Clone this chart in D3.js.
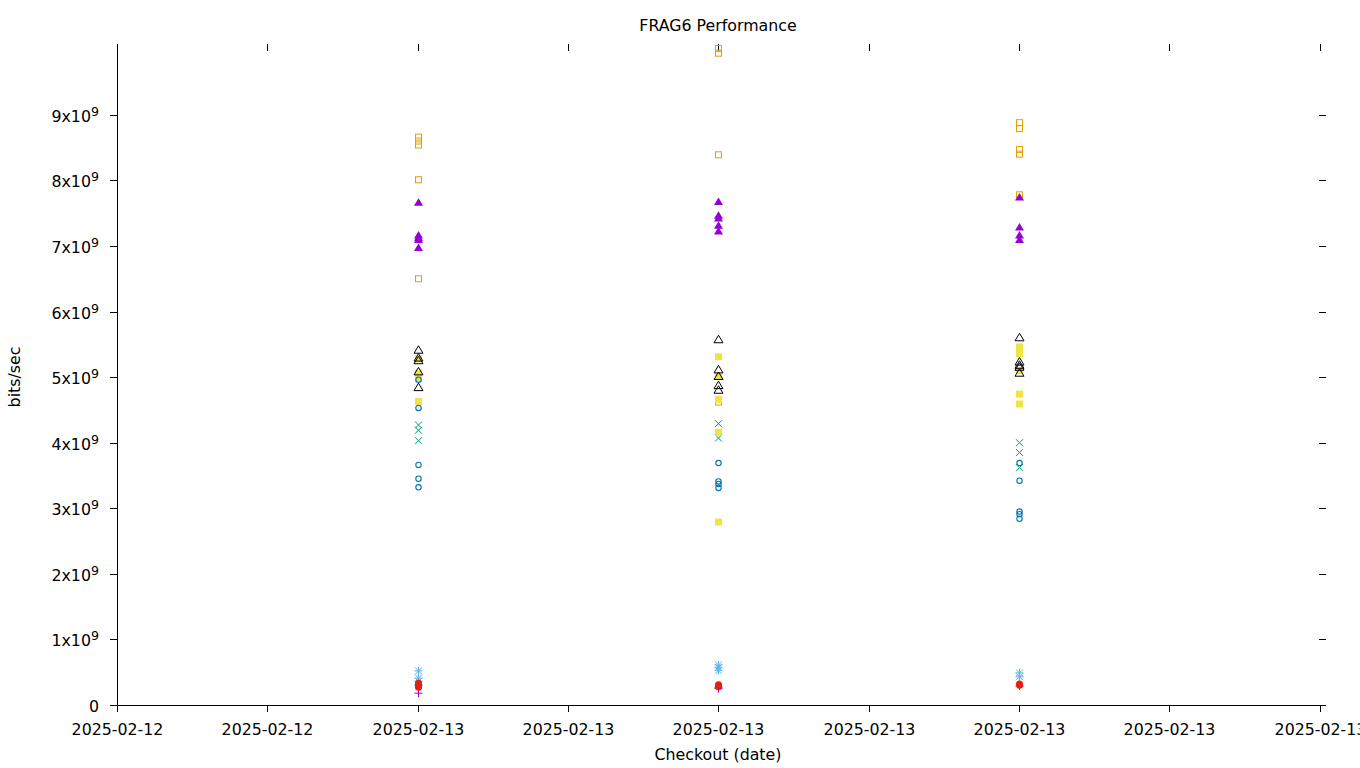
<!DOCTYPE html>
<html>
<head>
<meta charset="utf-8">
<script src="https://cdn.jsdelivr.net/npm/d3@7"></script>
<style>
  html, body { margin: 0; padding: 0; background: #fff; }
  svg { display: block; font-family: "DejaVu Sans", sans-serif; }
</style>
</head>
<body>
<svg id="chart" width="1360" height="768"></svg>
<script>
// ---- data ----
const runDates = ["2025-02-13T00:00:00Z", "2025-02-13T04:00:00Z", "2025-02-13T08:00:00Z"];
const xDomain = ["2025-02-12T20:00:00Z", "2025-02-13T12:05:00Z"];
const yTickValues = [0, 1e9, 2e9, 3e9, 4e9, 5e9, 6e9, 7e9, 8e9, 9e9];
const yMax = 10.08e9;

// values per run (bits/sec), one array per series
const s1Plus = [[0.18e9, 0.30e9], [0.27e9, 0.25e9], [0.29e9]];
const s2Cross = [[4.27e9, 4.19e9, 4.03e9], [4.29e9, 4.07e9], [4.00e9, 3.85e9, 3.62e9]];
const s3Star = [[0.52e9, 0.41e9, 0.36e9], [0.61e9, 0.57e9, 0.53e9], [0.49e9, 0.43e9]];
const s4OpenSquare = [[8.66e9, 8.60e9, 8.54e9, 8.01e9, 6.50e9], [10.01e9, 9.94e9, 8.39e9, 4.62e9], [8.88e9, 8.79e9, 8.47e9, 8.40e9, 7.78e9]];
const s5FilledSquare = [[5.28e9, 5.06e9, 4.98e9, 4.63e9], [5.31e9, 5.01e9, 4.66e9, 4.16e9, 2.79e9], [5.46e9, 5.36e9, 5.10e9, 4.74e9, 4.59e9]];
const s6OpenCircle = [[4.96e9, 4.53e9, 3.66e9, 3.45e9, 3.32e9], [3.69e9, 3.41e9, 3.37e9, 3.31e9], [3.69e9, 3.42e9, 2.95e9, 2.91e9, 2.84e9]];
const s7FilledCircle = [[0.33e9, 0.30e9, 0.27e9], [0.31e9, 0.28e9], [0.32e9, 0.30e9]];
const s8OpenTriangle = [[5.41e9, 5.29e9, 5.25e9, 5.08e9, 4.84e9], [5.57e9, 5.11e9, 5.01e9, 4.87e9, 4.80e9], [5.60e9, 5.23e9, 5.18e9, 5.15e9, 5.06e9]];
const s9FilledTriangle = [[7.66e9, 7.16e9, 7.12e9, 7.09e9, 6.97e9], [7.67e9, 7.46e9, 7.42e9, 7.31e9, 7.22e9], [7.74e9, 7.28e9, 7.16e9, 7.09e9]];

const seriesList = [
  { values: s1Plus, color: "#9400d3", shape: "plus" },
  { values: s2Cross, color: "#009e73", shape: "cross" },
  { values: s3Star, color: "#56b4e9", shape: "star" },
  { values: s4OpenSquare, color: "#e69f00", shape: "square", fill: false },
  { values: s5FilledSquare, color: "#f0e442", shape: "square", fill: true },
  { values: s6OpenCircle, color: "#0072b2", shape: "circle", fill: false },
  { values: s7FilledCircle, color: "#e51e10", shape: "circle", fill: true },
  { values: s8OpenTriangle, color: "#000000", shape: "triangle", fill: false },
  { values: s9FilledTriangle, color: "#9400d3", shape: "triangle", fill: true }
];

// ---- layout ----
const svg = d3.select("#chart");
const mLeft = 117, mRight = 1326, mTop = 44, mBottom = 705;
const fontSize = 15.8;

const x = d3.scaleUtc().domain(xDomain.map(d => new Date(d))).range([mLeft, mRight]);
const y = d3.scaleLinear().domain([0, yMax]).range([mBottom, mTop]);
const xTicks = d3.utcHour.every(2).range(new Date(xDomain[0]), new Date(xDomain[1]));
const fmt = d3.utcFormat("%Y-%m-%d");

// axes lines
svg.append("line").attr("x1", mLeft + 0.5).attr("x2", mLeft + 0.5).attr("y1", mTop).attr("y2", mBottom + 0.5)
  .attr("stroke", "#000").attr("stroke-width", 1);
svg.append("line").attr("x1", mLeft).attr("x2", mRight).attr("y1", mBottom + 0.5).attr("y2", mBottom + 0.5)
  .attr("stroke", "#000").attr("stroke-width", 1);

// x ticks bottom (outward) and top mirror
const gx = svg.append("g");
xTicks.forEach(t => {
  const px = Math.round(x(t)) + 0.5;
  gx.append("line").attr("x1", px).attr("x2", px).attr("y1", mBottom).attr("y2", mBottom + 7).attr("stroke", "#000");
  gx.append("line").attr("x1", px).attr("x2", px).attr("y1", mTop).attr("y2", mTop + 7).attr("stroke", "#000");
  gx.append("text").attr("x", px).attr("y", 735).attr("text-anchor", "middle")
    .attr("font-size", fontSize).attr("fill", "#000").text(fmt(t));
});

// y ticks left (outward) and right mirror
const gy = svg.append("g");
yTickValues.forEach(v => {
  const py = Math.round(y(v)) + 0.5;
  gy.append("line").attr("x1", mLeft - 7).attr("x2", mLeft).attr("y1", py).attr("y2", py).attr("stroke", "#000");
  if (v > 0) gy.append("line").attr("x1", mRight - 7).attr("x2", mRight).attr("y1", py).attr("y2", py).attr("stroke", "#000");
  const t = gy.append("text").attr("x", 99).attr("y", py + 6).attr("text-anchor", "end")
    .attr("font-size", fontSize).attr("fill", "#000");
  if (v === 0) {
    t.text("0");
  } else {
    t.append("tspan").text((v / 1e9) + "x10");
    t.append("tspan").attr("font-size", fontSize * 0.8).attr("dy", -6).text("9");
  }
});

// titles
svg.append("text").attr("x", 718).attr("y", 31).attr("text-anchor", "middle")
  .attr("font-size", fontSize).text("FRAG6 Performance");
svg.append("text").attr("x", 718).attr("y", 760).attr("text-anchor", "middle")
  .attr("font-size", fontSize).text("Checkout (date)");
svg.append("text").attr("transform", "translate(20,377) rotate(-90)").attr("text-anchor", "middle")
  .attr("font-size", fontSize).text("bits/sec");

// ---- points ----
function drawMarker(g, cx, cy, s) {
  const c = s.color;
  if (s.shape === "plus") {
    g.append("path").attr("d", `M${cx - 4},${cy}H${cx + 4}M${cx},${cy - 4}V${cy + 4}`)
      .attr("stroke", c).attr("fill", "none").attr("stroke-width", 1);
  } else if (s.shape === "cross") {
    g.append("path").attr("d", `M${cx - 3.5},${cy - 3.5}L${cx + 3.5},${cy + 3.5}M${cx - 3.5},${cy + 3.5}L${cx + 3.5},${cy - 3.5}`)
      .attr("stroke", c).attr("fill", "none").attr("stroke-width", 1);
  } else if (s.shape === "star") {
    g.append("path").attr("d", `M${cx - 4},${cy}H${cx + 4}M${cx},${cy - 4}V${cy + 4}M${cx - 3.5},${cy - 3.5}L${cx + 3.5},${cy + 3.5}M${cx - 3.5},${cy + 3.5}L${cx + 3.5},${cy - 3.5}`)
      .attr("stroke", c).attr("fill", "none").attr("stroke-width", 1);
  } else if (s.shape === "square") {
    if (s.fill) {
      g.append("rect").attr("x", cx - 3.5).attr("y", cy - 3.5).attr("width", 7).attr("height", 7).attr("fill", c);
    } else {
      g.append("rect").attr("x", cx - 3).attr("y", cy - 3).attr("width", 6).attr("height", 6)
        .attr("fill", "none").attr("stroke", c).attr("stroke-width", 1);
    }
  } else if (s.shape === "circle") {
    if (s.fill) {
      g.append("circle").attr("cx", cx).attr("cy", cy).attr("r", 3.5).attr("fill", c);
    } else {
      g.append("circle").attr("cx", cx).attr("cy", cy).attr("r", 2.7)
        .attr("fill", "none").attr("stroke", c).attr("stroke-width", 1.1);
    }
  } else if (s.shape === "triangle") {
    const d = `M${cx},${cy - 4.5}L${cx + 4.5},${cy + 3}L${cx - 4.5},${cy + 3}Z`;
    if (s.fill) g.append("path").attr("d", d).attr("fill", c);
    else g.append("path").attr("d", d).attr("fill", "none").attr("stroke", c).attr("stroke-width", 1);
  }
}

const gp = svg.append("g");
seriesList.forEach(s => {
  const g = gp.append("g");
  s.values.forEach((vals, i) => {
    const cx = Math.round(x(new Date(runDates[i]))) + 0.5;
    vals.forEach(v => drawMarker(g, cx, y(v), s));
  });
});
</script>
</body>
</html>
